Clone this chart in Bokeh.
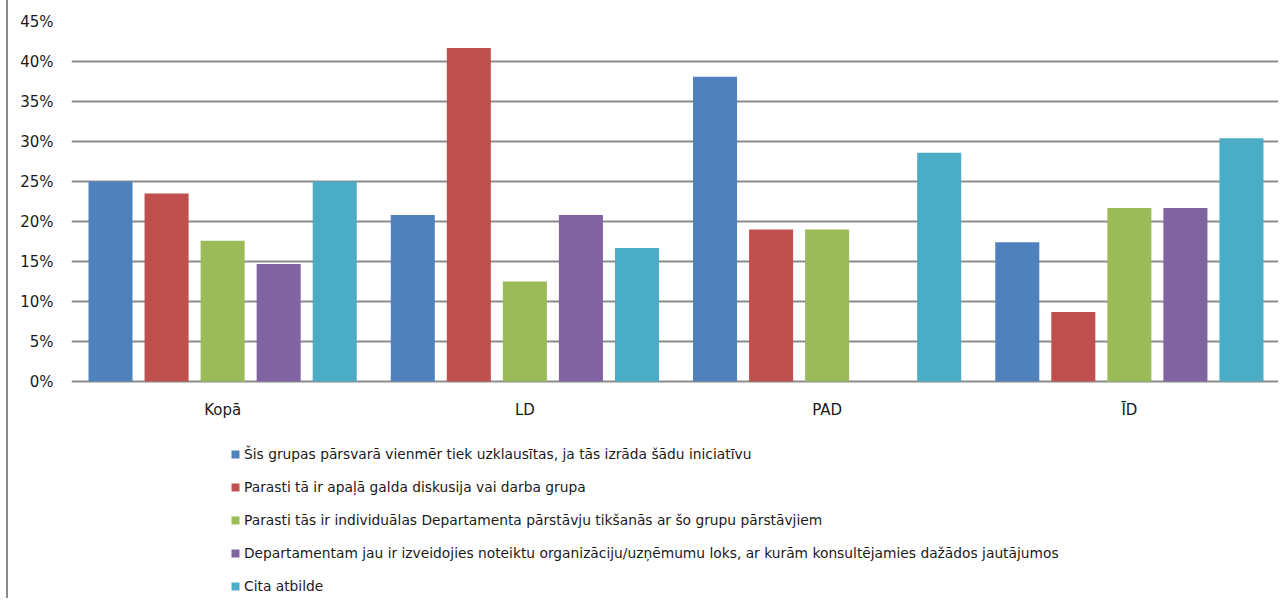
from bokeh.plotting import figure
from bokeh.models import FactorRange, Range1d, FixedTicker, PrintfTickFormatter, Legend, LegendItem, ColumnDataSource
from bokeh.core.properties import value
from bokeh.transform import dodge
from bokeh.embed import file_html
from bokeh.resources import INLINE

categories = ["Kopā", "LD", "PAD", "ĪD"]
series_names = [
    "Šis grupas pārsvarā vienmēr tiek uzklausītas, ja tās izrāda šādu iniciatīvu",
    "Parasti tā ir apaļā galda diskusija vai darba grupa",
    "Parasti tās ir individuālas Departamenta pārstāvju tikšanās ar šo grupu pārstāvjiem",
    "Departamentam jau ir izveidojies noteiktu organizāciju/uzņēmumu loks, ar kurām konsultējamies dažādos jautājumos",
    "Cita atbilde",
]
s1 = [25.0, 20.8, 38.1, 17.4]
s2 = [23.5, 41.7, 19.0, 8.7]
s3 = [17.6, 12.5, 19.0, 21.7]
s4 = [14.7, 20.8, 0.0, 21.7]
s5 = [25.0, 16.7, 28.6, 30.4]
series = [s1, s2, s3, s4, s5]
colors = ["#4F81BD", "#C0504D", "#9BBB59", "#8064A2", "#4BACC6"]
y_ticks = [0, 5, 10, 15, 20, 25, 30, 35, 40, 45]

FONT = "DejaVu Sans"
TXT = "#1a1a1a"

H = 598
TOP = 21
PX_PER_UNIT = 8.0
y_min = -((H - TOP) - 45 * PX_PER_UNIT) / PX_PER_UNIT

p = figure(
    width=1272, height=H,
    x_range=FactorRange(*categories, range_padding=0),
    y_range=Range1d(y_min, 45),
    x_axis_location=None,
    output_backend="svg", toolbar_location=None,
    min_border_left=63, min_border_right=0, min_border_top=TOP, min_border_bottom=0,
)
p.styles = {"margin-left": "6px", "border-left": "2px solid #8c8c8c"}
p.outline_line_color = None
p.background_fill_color = "white"
p.border_fill_color = "white"

data = {"cat": categories}
for i, s in enumerate(series):
    data[f"s{i}"] = s
src = ColumnDataSource(data)

step = 56 / 302
bw = 44 / 302
renderers = []
for i in range(5):
    r = p.vbar(x=dodge("cat", (i - 2) * step, range=p.x_range), top=f"s{i}", width=bw,
               source=src, fill_color=colors[i], line_color=None)
    renderers.append(r)

# category labels under the 0% line
p.text(x="cat", y=-3.5, text="cat", source=src, text_align="center", text_baseline="middle",
       text_font=value(FONT), text_font_size="15px", text_color=TXT)

p.xgrid.grid_line_color = None
p.ygrid.grid_line_color = "#8c8c8c"
p.ygrid.grid_line_width = 2
p.ygrid.ticker = FixedTicker(ticks=y_ticks)

p.yaxis.ticker = FixedTicker(ticks=y_ticks)
p.yaxis.formatter = PrintfTickFormatter(format="%d%%")
p.yaxis.axis_line_color = None
p.yaxis.major_tick_line_color = None
p.yaxis.minor_tick_line_color = None
p.yaxis.major_label_standoff = 12
p.yaxis.major_label_text_font = FONT
p.yaxis.major_label_text_font_size = "15px"
p.yaxis.major_label_text_color = TXT

LEG_H = 5 * 20 + 4 * 13
legend = Legend(
    items=[LegendItem(label=series_names[i], renderers=[renderers[i]]) for i in range(5)],
    orientation="vertical",
    location=(159, H - 444 - LEG_H),
    border_line_color=None,
    background_fill_alpha=0,
    glyph_width=10, glyph_height=10,
    label_height=20, spacing=13,
    label_standoff=4,
    label_text_font=FONT,
    label_text_font_size="13.8px",
    label_text_color=TXT,
    padding=0, margin=0,
)
p.add_layout(legend, "center")

open("out.html", "w").write(file_html(p, INLINE))
